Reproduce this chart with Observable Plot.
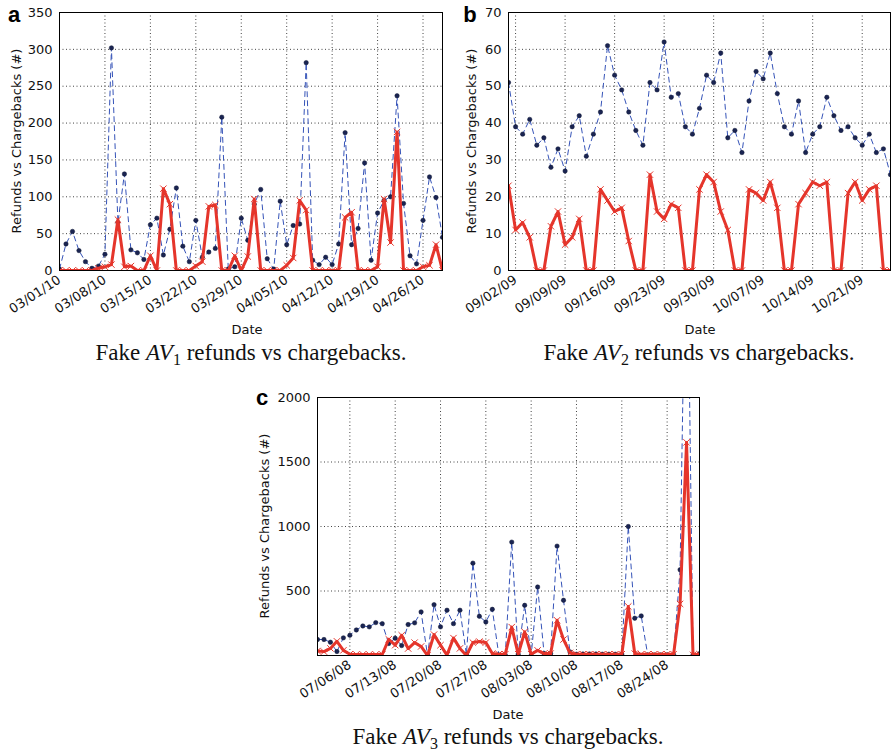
<!DOCTYPE html>
<html><head><meta charset="utf-8">
<script src="https://cdn.jsdelivr.net/npm/d3@7"></script>
<script src="https://cdn.jsdelivr.net/npm/@observablehq/plot@0.6"></script>
<style>
body{margin:0;background:#fff;}
#fig{position:relative;width:891px;height:752px;overflow:hidden;background:#fff;}
.panel{position:absolute;}
#txt{position:absolute;left:0;top:0;pointer-events:none;}
</style></head>
<body><div id="fig"></div>
<script>
// ---------- Panel a: Fake AV1 (03/01/10 – 04/29/10, daily) ----------
const startA = "03/01/10", endA = "04/29/10";
const refundsA = [2,36,53,27,12,3,6,22,302,65,131,28,24,15,62,71,21,56,112,33,12,68,18,25,30,208,2,5,71,41,90,110,16,2,94,35,61,63,282,14,8,18,8,36,187,35,57,146,14,78,95,100,237,91,20,9,68,127,99,45];
const chargebacksA = [0,0,0,0,0,0,3,5,8,69,5,6,0,0,20,0,111,90,0,0,0,6,12,87,89,0,0,20,0,19,97,0,0,0,0,7,17,95,82,0,0,0,0,0,72,79,0,0,0,5,97,38,188,0,0,0,5,7,35,0];
const xTicksA = ["03/01/10","03/08/10","03/15/10","03/22/10","03/29/10","04/05/10","04/12/10","04/19/10","04/26/10"];
const yTicksA = [0,50,100,150,200,250,300,350];

// ---------- Panel b: Fake AV2 (09/01/09 – 10/25/09, daily) ----------
const startB = "09/01/09", endB = "10/25/09";
const refundsB = [51,39,37,41,34,36,28,33,27,39,42,31,37,43,61,53,49,43,38,34,51,49,62,47,48,39,37,44,53,51,59,36,38,32,46,54,52,59,48,39,37,46,32,37,39,47,42,38,39,36,34,37,32,33,26];
const chargebacksB = [23,11,13,9,0,0,12,16,7,9,14,0,0,22,19,16,17,8,0,0,26,16,14,18,17,0,0,22,26,24,16,11,0,0,22,21,19,24,17,0,0,18,21,24,23,24,0,0,21,24,19,22,23,0,0];
const xTicksB = ["09/02/09","09/09/09","09/16/09","09/23/09","09/30/09","10/07/09","10/14/09","10/21/09"];
const yTicksB = [0,10,20,30,40,50,60,70];

// ---------- Panel c: Fake AV3 (07/01/08 – 08/29/08, daily) ----------
const startC = "07/01/08", endC = "08/29/08";
const refundsC = [124,124,103,31,137,157,198,229,222,255,247,93,134,77,240,253,338,0,394,222,351,247,351,10,716,304,260,358,5,5,879,10,389,0,531,15,15,848,428,28,10,12,12,12,10,10,10,10,1000,289,307,5,5,5,5,5,665,3770,5,15];
const chargebacksC = [35,30,55,110,40,10,8,8,8,8,8,126,80,157,54,100,70,0,162,80,3,135,55,0,100,108,100,15,10,10,220,10,183,10,40,15,15,273,124,20,10,10,10,10,10,10,10,10,380,15,10,10,10,10,10,10,400,1652,5,10];
const xTicksC = ["07/06/08","07/13/08","07/20/08","07/27/08","08/03/08","08/10/08","08/17/08","08/24/08"];
const yTicksC = [500,1000,1500,2000];

const captions = [
  {n:"1", x:251, y:360},
  {n:"2", x:699, y:360},
  {n:"3", x:508, y:744}
];

const parse = d3.utcParse("%m/%d/%y");
const fmt = d3.utcFormat("%m/%d/%y");
const BLUE_LINE = "#3553b8", BLUE_DOT = "#1a2452", RED = "#e5352b";

function panel({start, end, refunds, charge, xTicks, yTicks, yDomain, left, top, width, height, mL, mR, mT, mB}) {
  const dates = d3.utcDay.range(parse(start), d3.utcDay.offset(parse(end), 1));
  const ref = dates.map((d, i) => ({date: d, v: refunds[i]}));
  const chb = dates.map((d, i) => ({date: d, v: charge[i]}));
  const xt = xTicks.map(parse);
  const yGrid = yTicks.filter(v => v > yDomain[0] && v < yDomain[1]);
  const p = Plot.plot({
    width, height,
    marginLeft: mL, marginRight: mR, marginTop: mT, marginBottom: mB,
    style: {fontFamily: "'DejaVu Sans', sans-serif", fontSize: "13px", background: "#fff", color: "#111", overflow: "visible"},
    x: {type: "utc", domain: [dates[0], dates[dates.length - 1]]},
    y: {domain: yDomain},
    marks: [
      Plot.ruleX(xt, {stroke: "#444", strokeWidth: 1, strokeDasharray: "1,2.5"}),
      Plot.ruleY(yGrid, {stroke: "#444", strokeWidth: 1, strokeDasharray: "1,2.5"}),
      Plot.lineY(ref, {x: "date", y: "v", stroke: BLUE_LINE, strokeWidth: 1, strokeDasharray: "5,4", clip: true}),
      Plot.dot(ref, {x: "date", y: "v", r: 2.2, fill: BLUE_DOT, stroke: "#0c1433", strokeWidth: 0.5, clip: true}),
      Plot.lineY(chb, {x: "date", y: "v", stroke: RED, strokeWidth: 3, clip: true}),
      Plot.dot(chb, {x: "date", y: "v", symbol: "times", r: 3, stroke: RED, strokeWidth: 1, clip: true}),
      Plot.frame({stroke: "#000", strokeWidth: 1}),
      Plot.axisX({ticks: xt, tickFormat: fmt, tickRotate: -33, tickSize: 0, tickPadding: 8, label: null, fontSize: 13}),
      Plot.axisY({ticks: yTicks, tickFormat: d3.format("d"), tickSize: 0, tickPadding: 7, label: null, fontSize: 13})
    ]
  });
  p.classList.add("panel");
  p.style.left = left + "px";
  p.style.top = top + "px";
  document.getElementById("fig").appendChild(p);
}

panel({start: startA, end: endA, refunds: refundsA, charge: chargebacksA, xTicks: xTicksA, yTicks: yTicksA, yDomain: [0, 350],
  left: 0, top: 0, width: 450, height: 340, mL: 59, mR: 8, mT: 12, mB: 70});
panel({start: startB, end: endB, refunds: refundsB, charge: chargebacksB, xTicks: xTicksB, yTicks: yTicksB, yDomain: [0, 70],
  left: 445, top: 0, width: 446, height: 340, mL: 63, mR: 1, mT: 12, mB: 70});
panel({start: startC, end: endC, refunds: refundsC, charge: chargebacksC, xTicks: xTicksC, yTicks: yTicksC, yDomain: [0, 2000],
  left: 250, top: 385, width: 455, height: 340, mL: 67, mR: 6, mT: 12, mB: 70});

// ---------- overlay text ----------
const svg = d3.select("#fig").append("svg").attr("id", "txt").attr("width", 891).attr("height", 752);
const letters = [{t: "a", x: 14, y: 22}, {t: "b", x: 470, y: 22}, {t: "c", x: 262, y: 405}];
svg.selectAll("text.letter").data(letters).join("text").attr("class", "letter")
  .attr("x", d => d.x).attr("y", d => d.y).attr("text-anchor", "middle")
  .attr("font-family", "'Liberation Sans', Arial, sans-serif").attr("font-weight", "bold").attr("font-size", 22)
  .text(d => d.t);
const ylabs = [{x: 21, y: 141}, {x: 476, y: 141}, {x: 269, y: 526}];
svg.selectAll("text.ylab").data(ylabs).join("text").attr("class", "ylab")
  .attr("transform", d => `translate(${d.x},${d.y}) rotate(-90)`).attr("text-anchor", "middle")
  .attr("font-family", "'DejaVu Sans', sans-serif").attr("font-size", 13).attr("fill", "#111")
  .text("Refunds vs Chargebacks (#)");
const xlabs = [{x: 247, y: 334}, {x: 700, y: 334}, {x: 508, y: 719}];
svg.selectAll("text.xlab").data(xlabs).join("text").attr("class", "xlab")
  .attr("x", d => d.x).attr("y", d => d.y).attr("text-anchor", "middle")
  .attr("font-family", "'DejaVu Sans', sans-serif").attr("font-size", 13).attr("fill", "#111")
  .text("Date");
const cap = svg.selectAll("text.cap").data(captions).join("text").attr("class", "cap")
  .attr("x", d => d.x).attr("y", d => d.y).attr("text-anchor", "middle")
  .attr("font-family", "'Liberation Serif', 'Times New Roman', serif").attr("font-size", 23).attr("fill", "#111");
cap.append("tspan").text("Fake ");
cap.append("tspan").attr("font-style", "italic").text("AV");
cap.append("tspan").attr("font-size", 16).attr("dy", 5).text(d => d.n);
cap.append("tspan").attr("dy", -5).text(" refunds vs chargebacks.");
</script></body></html>
